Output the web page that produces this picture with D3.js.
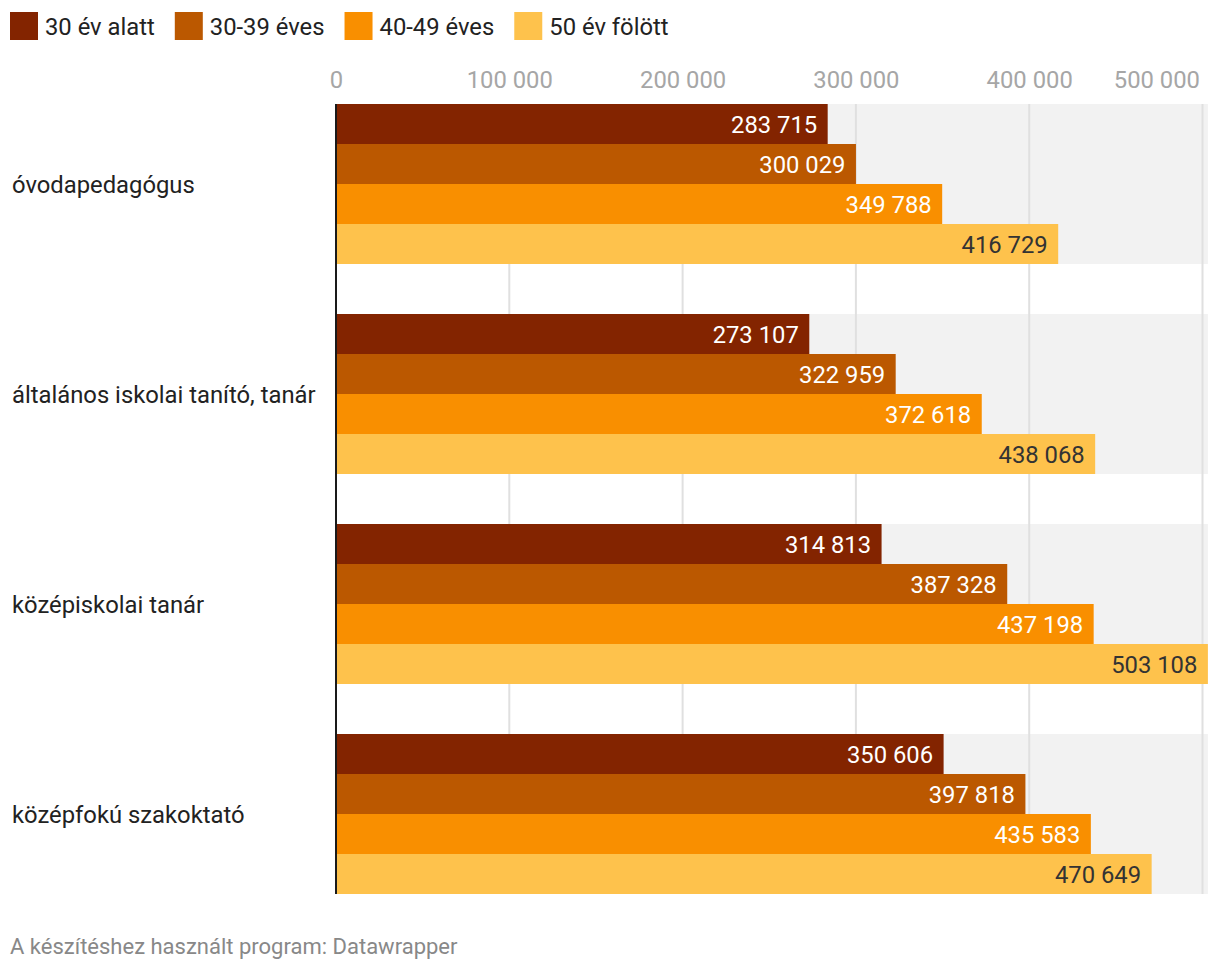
<!DOCTYPE html>
<html>
<head>
<meta charset="utf-8">
<script src="https://cdn.jsdelivr.net/npm/d3@7"></script>
<style>
  html, body { margin: 0; padding: 0; background: #fff; }
  svg { display: block; font-family: Roboto, "Noto Sans", sans-serif; }
</style>
</head>
<body>
<svg id="chart" width="1220" height="972"></svg>
<script>
const categories = ["óvodapedagógus", "általános iskolai tanító, tanár", "középiskolai tanár", "középfokú szakoktató"];
const seriesNames = ["30 év alatt", "30-39 éves", "40-49 éves", "50 év fölött"];
const colors = ["#832400", "#bb5800", "#f98f00", "#fec24c"];
const labelColors = ["#ffffff", "#ffffff", "#ffffff", "#333333"];
const v30alatt = [283715, 273107, 314813, 350606];
const v3039 = [300029, 322959, 387328, 397818];
const v4049 = [349788, 372618, 437198, 435583];
const v50felett = [416729, 438068, 503108, 470649];
const tickValues = [0, 100000, 200000, 300000, 400000, 500000];
const footer = "A készítéshez használt program: Datawrapper";

const seriesValues = [v30alatt, v3039, v4049, v50felett];
const fs = 23.8;
const svg = d3.select("#chart");

const x = d3.scaleLinear().domain([0, 500000]).range([336, 1202.5]);
const y0 = d3.scaleBand().domain(categories).range([104, 894]).paddingInner(50 / 210).paddingOuter(0);
const y1 = d3.scaleBand().domain(seriesNames).range([0, y0.bandwidth()]).padding(0);
const maxX = x(d3.max(seriesValues.flat()));

// legend
const legend = svg.append("g");
let lx = 10;
seriesNames.forEach((s, i) => {
  legend.append("rect").attr("x", lx).attr("y", 12).attr("width", 28).attr("height", 28).attr("fill", colors[i]);
  const t = legend.append("text").attr("x", lx + 35).attr("y", 34.5)
    .attr("font-size", fs).attr("fill", "#222").text(s);
  lx += 35 + t.node().getComputedTextLength() + 20;
});

// background bands
svg.append("g").selectAll("rect").data(categories).join("rect")
  .attr("x", x(0)).attr("y", d => y0(d))
  .attr("width", maxX - x(0)).attr("height", y0.bandwidth())
  .attr("fill", "#f2f2f2");

// gridlines
svg.append("g").selectAll("line").data(tickValues.slice(1)).join("line")
  .attr("x1", d => x(d)).attr("x2", d => x(d))
  .attr("y1", 104).attr("y2", 894)
  .attr("stroke", "#e0e0e0").attr("stroke-width", 2);

// axis tick labels
const axis = d3.axisTop(x).tickValues(tickValues).tickSize(0)
  .tickFormat(d => d3.format(",")(d).replace(/,/g, " "));
const ax = svg.append("g").attr("transform", "translate(0,88)").call(axis);
ax.select(".domain").remove();
ax.selectAll("text").attr("font-size", fs).attr("fill", "#a6a6a6")
  .attr("font-family", "Roboto").attr("dy", 0).attr("y", 0)
  .attr("text-anchor", d => d === 500000 ? "end" : "middle")
  .attr("dx", d => d === 500000 ? -3 : 0);

// bars
const groups = svg.append("g").selectAll("g").data(categories).join("g")
  .attr("transform", d => `translate(0,${y0(d)})`);
groups.each(function (cat, ci) {
  const g = d3.select(this);
  seriesNames.forEach((s, si) => {
    const v = seriesValues[si][ci];
    g.append("rect").attr("x", x(0)).attr("y", y1(s))
      .attr("width", x(v) - x(0)).attr("height", y1.bandwidth())
      .attr("fill", colors[si]);
    g.append("text").attr("x", x(v) - 10.5).attr("y", y1(s) + y1.bandwidth() / 2)
      .attr("dy", "0.36em").attr("text-anchor", "end")
      .attr("font-size", fs).attr("fill", labelColors[si])
      .text(d3.format(",")(v).replace(/,/g, " "));
  });
});

// category labels
svg.append("g").selectAll("text").data(categories).join("text")
  .attr("x", 12).attr("y", d => y0(d) + y0.bandwidth() / 2)
  .attr("dy", "0.36em").attr("font-size", fs).attr("fill", "#222")
  .text(d => d);

// zero axis line
svg.append("line").attr("x1", x(0)).attr("x2", x(0)).attr("y1", 104).attr("y2", 894)
  .attr("stroke", "#1a1a1a").attr("stroke-width", 2);

// footer
svg.append("text").attr("x", 10).attr("y", 954).attr("font-size", 22).attr("fill", "#888").text(footer);
</script>
</body>
</html>
